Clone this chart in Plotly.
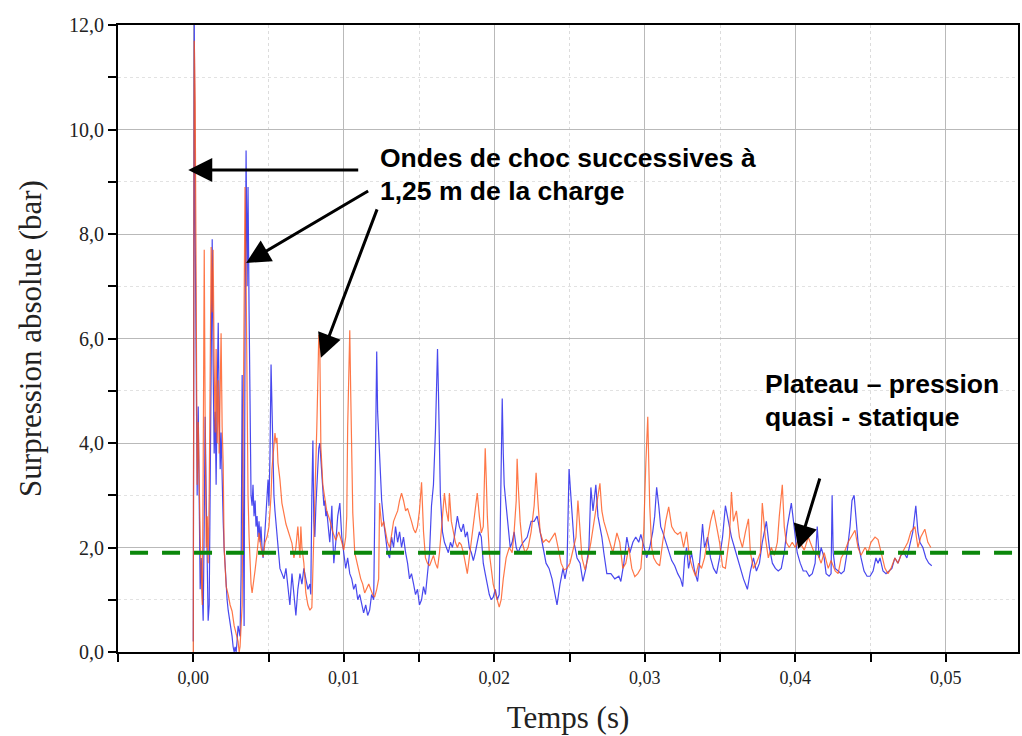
import plotly.graph_objects as go

# ---- Blue trace (time in ms, pressure in bar) ----
blue_time_ms = [
    0.00, 0.07, 0.13, 0.20, 0.26, 0.33, 0.40, 0.46, 0.53, 0.60,
    0.66, 0.73, 0.79, 0.86, 0.93, 0.99, 1.06, 1.13, 1.19, 1.26,
    1.32, 1.39, 1.46, 1.52, 1.59, 1.66, 1.72, 1.79, 1.85, 1.92,
    1.99, 2.05, 2.12, 2.19, 2.25, 2.32, 2.38, 2.45, 2.52, 2.58,
    2.65, 2.72, 2.78, 2.85, 2.91, 2.98, 3.11, 3.18, 3.25, 3.31,
    3.38, 3.44, 3.51, 3.58, 3.64, 3.71, 3.77, 3.84, 3.91, 3.97,
    4.04, 4.11, 4.17, 4.24, 4.30, 4.37, 4.44, 4.50, 4.57, 4.64,
    4.70, 4.77, 4.83, 4.90, 4.97, 5.03, 5.10, 5.17, 5.23, 5.30,
    5.36, 5.43, 5.50, 5.56, 5.63, 5.70, 5.76, 5.89, 6.03, 6.16,
    6.29, 6.42, 6.56, 6.69, 6.82, 6.95, 7.09, 7.22, 7.35, 7.48,
    7.62, 7.75, 7.81, 7.88, 7.95, 8.01, 8.08, 8.15, 8.21, 8.28,
    8.34, 8.41, 8.48, 8.54, 8.61, 8.68, 8.74, 8.81, 8.87, 8.94,
    9.01, 9.07, 9.14, 9.21, 9.27, 9.34, 9.47, 9.60, 9.74, 9.87,
    10.00, 10.13, 10.26, 10.40, 10.53, 10.66, 10.79, 10.93, 11.06, 11.19,
    11.32, 11.46, 11.59, 11.72, 11.85, 11.99, 12.05, 12.12, 12.19, 12.25,
    12.32, 12.38, 12.45, 12.52, 12.65, 12.78, 12.91, 13.05, 13.18, 13.31,
    13.44, 13.58, 13.71, 13.84, 13.97, 14.11, 14.24, 14.37, 14.50, 14.64,
    14.77, 14.90, 15.03, 15.17, 15.30, 15.43, 15.56, 15.70, 15.83, 15.96,
    16.09, 16.16, 16.23, 16.29, 16.36, 16.42, 16.56, 16.69, 16.82, 16.95,
    17.09, 17.22, 17.35, 17.55, 17.68, 17.81, 17.95, 18.08, 18.21, 18.34,
    18.48, 18.61, 18.74, 18.87, 19.01, 19.14, 19.27, 19.40, 19.54, 19.67,
    19.80, 19.93, 20.07, 20.20, 20.33, 20.40, 20.46, 20.53, 20.60, 20.66,
    20.79, 20.93, 21.06, 21.19, 21.32, 21.46, 21.59, 21.72, 21.92, 22.19,
    22.45, 22.65, 22.85, 23.05, 23.25, 23.44, 23.64, 23.84, 24.04, 24.17,
    24.37, 24.57, 24.70, 24.83, 24.97, 25.03, 25.17, 25.30, 25.50, 25.70,
    25.89, 26.09, 26.29, 26.42, 26.56, 26.75, 26.89, 27.02, 27.15, 27.28,
    27.48, 27.75, 28.01, 28.28, 28.41, 28.61, 28.81, 29.01, 29.21, 29.40,
    29.60, 29.74, 29.93, 30.13, 30.33, 30.53, 30.66, 30.79, 30.93, 31.06,
    31.19, 31.39, 31.59, 31.79, 31.99, 32.19, 32.38, 32.52, 32.65, 32.78,
    32.91, 33.11, 33.31, 33.51, 33.64, 33.84, 33.97, 34.17, 34.37, 34.57,
    34.77, 34.97, 35.17, 35.36, 35.56, 35.76, 35.96, 36.16, 36.36, 36.56,
    36.82, 37.02, 37.22, 37.42, 37.62, 37.81, 38.08, 38.28, 38.48, 38.68,
    38.87, 39.07, 39.27, 39.47, 39.74, 39.93, 40.13, 40.33, 40.53, 40.73,
    40.93, 41.13, 41.32, 41.46, 41.59, 41.72, 41.92, 42.05, 42.25, 42.38,
    42.45, 42.52, 42.65, 42.85, 43.05, 43.25, 43.44, 43.64, 43.77, 43.91,
    44.04, 44.17, 44.37, 44.57, 44.77, 44.97, 45.17, 45.36, 45.50, 45.63,
    45.83, 46.03, 46.23, 46.42, 46.62, 46.82, 47.02, 47.22, 47.42, 47.81,
    48.01, 48.15, 48.28, 48.48, 48.68, 48.87, 49.07,
]
blue_pressure_bar = [
    0.2, 12.0, 8.0, 4.6, 3.0, 4.7, 2.2, 1.2, 1.8, 0.8,
    0.6, 2.5, 4.5, 3.0, 1.5, 0.6, 0.9, 3.5, 6.0, 7.9,
    5.5, 3.8, 4.6, 3.2, 5.0, 6.3, 4.8, 3.5, 4.2, 3.0,
    2.5, 2.0, 1.6, 1.2, 1.0, 0.8, 0.7, 0.5, 0.4, 0.3,
    0.1, 0.0, 0.1, 0.0, 0.2, 0.5, 0.3, 1.5, 5.3, 2.0,
    0.5, 6.0, 9.6, 7.0, 8.9, 6.5, 4.0, 3.0, 2.8, 3.2,
    2.6, 2.9, 2.4, 2.6, 2.2, 2.5, 2.1, 2.4, 2.0, 1.8,
    2.0, 2.3, 2.6, 2.9, 3.3, 2.8, 3.8, 5.5, 4.5, 3.8,
    3.0, 2.7, 2.5, 2.3, 2.0, 1.8, 1.6, 1.5, 1.4, 1.6,
    1.2, 0.9, 1.5, 1.1, 0.7, 1.2, 1.5, 1.3, 1.6, 1.4,
    1.2, 1.3, 1.1, 3.0, 4.05, 2.5, 2.2, 2.8, 3.2, 3.6,
    3.9, 4.0, 3.7, 3.3, 3.0, 2.8, 2.9, 2.6, 2.7, 2.5,
    2.3, 2.1, 2.4, 2.8, 2.2, 1.7, 2.1, 2.6, 2.85, 2.2,
    1.9, 1.6, 1.8, 1.5, 1.4, 1.2, 1.3, 1.0, 1.1, 0.9,
    0.75, 0.9, 0.7, 0.8, 1.1, 1.0, 2.5, 5.0, 5.75, 4.6,
    4.2, 3.7, 3.3, 2.9, 2.5, 2.2, 1.9, 1.8, 2.2, 2.0,
    2.4, 2.1, 2.3, 2.0, 2.2, 1.9, 1.7, 1.4, 1.5, 1.3,
    1.1, 1.2, 0.9, 1.0, 1.25, 1.1, 1.5, 1.9, 2.8, 3.2,
    4.2, 5.0, 5.8, 5.0, 3.7, 3.0, 2.3, 2.1, 2.0, 1.9,
    2.1, 2.0, 2.2, 2.6, 2.4, 2.3, 2.45, 2.2, 2.3, 2.0,
    1.9, 1.75, 1.9, 2.1, 2.3, 2.2, 1.7, 1.5, 1.25, 1.1,
    1.0, 1.05, 1.2, 1.0, 1.1, 2.5, 4.0, 4.85, 3.8, 3.2,
    2.8, 2.3, 2.0, 2.1, 2.3, 2.0, 1.9, 2.0, 2.1, 2.2,
    2.5, 2.5, 2.6, 2.3, 2.0, 1.7, 1.6, 1.4, 1.1, 0.9,
    1.3, 1.6, 1.4, 1.6, 3.5, 3.2, 2.6, 2.1, 1.8, 1.7,
    1.35, 1.6, 2.0, 3.15, 2.7, 3.2, 2.6, 2.4, 2.2, 1.9,
    1.5, 1.5, 1.4, 1.45, 1.35, 1.7, 2.2, 1.9, 2.1, 2.2,
    2.1, 2.25, 2.0, 1.8, 2.0, 2.3, 2.6, 3.15, 2.8, 2.4,
    2.3, 2.1, 1.9, 1.75, 1.65, 1.5, 1.4, 1.25, 1.8, 2.0,
    1.6, 1.9, 1.55, 1.35, 1.7, 2.45, 2.0, 2.2, 1.8, 1.6,
    1.5, 1.8, 2.2, 2.8, 2.5, 2.2, 2.0, 1.8, 1.55, 1.4,
    1.2, 1.55, 1.8, 1.55, 1.7, 2.1, 2.5, 2.0, 1.7, 1.6,
    1.55, 1.6, 1.9, 2.4, 2.85, 2.4, 1.9, 1.7, 1.55, 1.55,
    1.45, 1.5, 1.7, 2.4, 1.8, 2.0, 1.8, 1.5, 1.45, 1.5,
    3.0, 1.9, 1.6, 1.55, 1.5, 1.55, 1.9, 2.4, 2.9, 3.0,
    2.6, 2.1, 1.8, 1.55, 1.45, 1.45, 1.55, 1.8, 1.7, 1.8,
    1.55, 1.5, 1.55, 1.6, 1.8, 1.7, 1.85, 1.9, 1.8, 2.3,
    2.8, 2.3, 2.1, 2.0, 1.8, 1.7, 1.65,
]

# ---- Orange trace (time in ms, pressure in bar) ----
orange_time_ms = [
    0.00, 0.07, 0.13, 0.20, 0.26, 0.33, 0.40, 0.46, 0.53, 0.60,
    0.66, 0.73, 0.79, 0.86, 0.93, 0.99, 1.06, 1.13, 1.19, 1.26,
    1.32, 1.39, 1.46, 1.52, 1.59, 1.66, 1.72, 1.79, 1.85, 1.92,
    1.99, 2.05, 2.12, 2.19, 2.32, 2.45, 2.58, 2.72, 2.85, 2.98,
    3.05, 3.11, 3.18, 3.25, 3.31, 3.38, 3.44, 3.51, 3.58, 3.64,
    3.71, 3.77, 3.84, 3.91, 3.97, 4.11, 4.24, 4.37, 4.50, 4.64,
    4.77, 4.90, 5.03, 5.17, 5.23, 5.36, 5.43, 5.50, 5.56, 5.63,
    5.76, 5.89, 6.03, 6.16, 6.29, 6.42, 6.56, 6.69, 6.82, 6.95,
    7.02, 7.09, 7.15, 7.22, 7.35, 7.48, 7.62, 7.75, 7.88, 7.95,
    8.08, 8.21, 8.28, 8.34, 8.41, 8.48, 8.61, 8.74, 8.87, 9.07,
    9.27, 9.47, 9.67, 9.87, 10.00, 10.13, 10.20, 10.26, 10.33, 10.40,
    10.46, 10.53, 10.60, 10.73, 10.86, 10.99, 11.13, 11.26, 11.39, 11.52,
    11.66, 11.79, 11.92, 12.05, 12.19, 12.32, 12.38, 12.52, 12.65, 12.78,
    12.91, 13.05, 13.18, 13.31, 13.44, 13.58, 13.71, 13.84, 13.97, 14.11,
    14.24, 14.37, 14.50, 14.64, 14.77, 14.90, 15.03, 15.17, 15.23, 15.30,
    15.43, 15.56, 15.70, 15.83, 15.96, 16.09, 16.23, 16.36, 16.49, 16.62,
    16.69, 16.82, 16.95, 17.02, 17.15, 17.28, 17.42, 17.55, 17.68, 17.81,
    17.95, 18.08, 18.21, 18.34, 18.48, 18.61, 18.74, 18.87, 19.01, 19.14,
    19.27, 19.40, 19.47, 19.54, 19.67, 19.80, 19.93, 20.07, 20.20, 20.33,
    20.46, 20.60, 20.79, 21.00, 21.19, 21.32, 21.46, 21.52, 21.59, 21.72,
    21.85, 22.05, 22.25, 22.45, 22.65, 22.78, 22.92, 23.05, 23.25, 23.44,
    23.64, 23.84, 24.04, 24.24, 24.44, 24.64, 24.83, 25.03, 25.23, 25.43,
    25.56, 25.70, 25.83, 26.03, 26.23, 26.42, 26.62, 26.82, 27.02, 27.15,
    27.28, 27.48, 27.68, 27.88, 28.15, 28.34, 28.54, 28.74, 28.94, 29.14,
    29.34, 29.54, 29.74, 29.93, 30.07, 30.13, 30.20, 30.26, 30.33, 30.46,
    30.60, 30.79, 30.99, 31.19, 31.39, 31.59, 31.79, 31.99, 32.19, 32.38,
    32.58, 32.78, 32.98, 33.18, 33.38, 33.58, 33.77, 33.97, 34.17, 34.37,
    34.57, 34.77, 34.97, 35.17, 35.36, 35.63, 35.76, 35.89, 36.09, 36.29,
    36.49, 36.69, 36.89, 37.02, 37.22, 37.42, 37.68, 37.81, 38.01, 38.21,
    38.41, 38.61, 38.81, 38.94, 39.14, 39.27, 39.40, 39.60, 39.80, 40.00,
    40.20, 40.40, 40.60, 40.86, 41.06, 41.26, 41.52, 41.72, 41.92, 42.19,
    42.38, 42.65, 42.85, 43.05, 43.25, 43.51, 43.71, 43.97, 44.17, 44.37,
    44.64, 44.83, 45.03, 45.30, 45.50, 45.70, 45.96, 46.16, 46.36, 46.62,
    46.82, 47.02, 47.28, 47.48, 47.68, 47.95, 48.15, 48.34, 48.61, 48.81,
    49.01,
]
orange_pressure_bar = [
    0.0, 11.7, 10.5, 5.4, 3.2, 4.4, 2.6, 2.2, 1.5, 0.9,
    3.5, 7.7, 4.5, 2.0, 2.6, 1.7, 3.0, 5.2, 7.75, 6.5,
    7.7, 5.5, 4.2, 5.8, 4.0, 5.2, 3.8, 5.0, 6.1, 4.3,
    3.6, 2.0, 1.5, 1.25, 1.1, 0.9, 0.78, 0.5, 0.35, 0.2,
    0.0, 0.1, 0.5, 0.9, 4.0, 7.5, 8.9, 7.2, 4.5, 3.0,
    2.2, 1.6, 1.3, 1.13, 1.3, 1.57, 1.9, 2.28, 2.0, 1.82,
    2.1, 2.2, 2.4, 3.0, 3.5, 3.9, 4.19, 4.0, 4.1, 3.62,
    3.3, 2.85, 2.6, 2.45, 2.33, 2.2, 2.08, 1.8, 2.0, 2.4,
    2.0, 1.8, 2.4, 2.0, 1.7, 1.13, 0.9, 0.8, 0.85, 1.5,
    3.0, 4.3, 5.2, 6.07, 5.8, 3.93, 3.2, 2.9, 2.7, 2.53,
    2.3, 2.14, 2.3, 2.1, 1.95, 2.2, 2.6, 4.3, 5.5, 6.16,
    5.0, 3.5, 2.66, 1.9, 1.7, 1.57, 1.4, 1.3, 1.13, 1.2,
    1.3, 1.2, 1.1, 1.05, 1.2, 1.4, 2.85, 2.4, 2.5, 2.3,
    2.1, 2.0, 2.28, 2.5, 2.6, 2.7, 2.9, 3.04, 2.9, 2.7,
    2.75, 2.6, 2.5, 2.35, 2.28, 2.4, 2.7, 3.25, 2.8, 2.3,
    1.8, 1.7, 1.65, 1.75, 1.85, 1.7, 1.6, 1.9, 2.28, 2.8,
    3.04, 2.7, 2.5, 3.04, 2.5, 2.28, 2.1, 2.0, 2.1, 2.05,
    1.9, 1.7, 1.5, 1.8, 2.1, 2.4, 2.7, 3.04, 2.6, 2.28,
    2.4, 3.9, 3.3, 2.6, 1.9, 1.6, 1.3, 1.13, 1.0, 0.86,
    1.0, 1.4, 1.8, 2.0, 1.9, 2.3, 2.9, 3.7, 3.2, 2.5,
    2.1, 1.9, 2.0, 2.3, 2.8, 3.43, 2.8, 2.3, 2.1, 2.15,
    2.1, 2.2, 2.28, 2.0, 1.7, 1.57, 1.6, 1.7, 1.95, 2.2,
    2.9, 2.3, 1.8, 1.57, 1.8, 2.1, 2.5, 2.8, 3.23, 2.7,
    2.5, 2.3, 2.1, 1.9, 2.28, 2.1, 1.6, 1.7, 2.0, 1.6,
    1.44, 1.5, 1.6, 2.3, 3.6, 4.0, 4.5, 3.7, 2.8, 2.0,
    1.8, 1.7, 1.65, 2.1, 2.5, 2.78, 2.4, 2.3, 2.25, 2.3,
    2.0, 2.3, 1.8, 1.6, 1.45, 1.7, 1.6, 1.8, 2.2, 2.5,
    2.72, 2.4, 2.1, 1.63, 1.6, 2.2, 3.06, 2.5, 2.7, 2.2,
    2.0, 2.3, 2.55, 1.9, 1.6, 1.7, 1.9, 2.85, 2.2, 1.8,
    2.0, 1.85, 2.1, 2.6, 3.2, 2.4, 2.1, 2.0, 2.1, 2.0,
    2.15, 2.05, 1.95, 2.2, 2.05, 1.9, 1.85, 1.7, 1.9, 1.6,
    1.75, 1.55, 1.5, 1.8, 1.9, 2.1, 2.2, 2.33, 2.0, 1.85,
    2.0, 1.9, 2.1, 2.2, 2.15, 1.9, 1.6, 1.5, 1.6, 1.8,
    1.7, 1.85, 2.0, 2.1, 2.3, 2.4, 2.0, 2.2, 2.35, 2.1,
    2.0,
]

# ---- Quasi-static pressure plateau (green dashed line) ----
plateau_time_s = [-0.0042, 0.055]
plateau_pressure_bar = [1.9, 1.9]

# ---- Tick values ----
x_tick_vals = [0.00, 0.01, 0.02, 0.03, 0.04, 0.05]
y_tick_vals = [0, 2, 4, 6, 8, 10, 12]

fig = go.Figure()
fig.add_trace(go.Scatter(
    x=[t / 1000 for t in blue_time_ms], y=blue_pressure_bar,
    mode="lines", line=dict(color="rgba(40,40,235,0.85)", width=1.2),
    showlegend=False, hoverinfo="skip"))
fig.add_trace(go.Scatter(
    x=[t / 1000 for t in orange_time_ms], y=orange_pressure_bar,
    mode="lines", line=dict(color="rgba(255,85,25,0.8)", width=1.2),
    showlegend=False, hoverinfo="skip"))
fig.add_trace(go.Scatter(
    x=plateau_time_s, y=plateau_pressure_bar,
    mode="lines", line=dict(color="#0b870b", width=4, dash="18px,14px"),
    showlegend=False, hoverinfo="skip"))

serif = "Liberation Serif, Times New Roman, serif"
sans = "Liberation Sans, Arial, sans-serif"

fig.update_layout(
    width=1022, height=736,
    margin=dict(l=118, r=2, t=25, b=84),
    plot_bgcolor="white", paper_bgcolor="white",
    separators=", ",
    font=dict(family=serif, color="#222"),
    xaxis=dict(
        range=[-0.005, 0.0548],
        tickvals=x_tick_vals, tickformat=".2f",
        ticks="outside", ticklen=8, tickwidth=2, tickcolor="black",
        tickfont=dict(family=serif, size=18, color="#222"),
        showline=True, linecolor="black", linewidth=2, mirror=True,
        showgrid=True, gridcolor="#b9b9b9", gridwidth=1,
        zeroline=False,
        minor=dict(dtick=0.005, tick0=0, ticks="outside", ticklen=8, tickwidth=2,
                   tickcolor="black", showgrid=True, gridcolor="#dcdcdc", griddash="dot"),
        title=dict(text="Temps (s)", font=dict(family=serif, size=31, color="#222"), standoff=20),
    ),
    yaxis=dict(
        range=[0, 12],
        tickvals=y_tick_vals, tickformat=".1f",
        ticks="outside", ticklen=8, tickwidth=2, tickcolor="black",
        tickfont=dict(family=serif, size=20, color="#222"),
        showline=True, linecolor="black", linewidth=2, mirror=True,
        showgrid=True, gridcolor="#b9b9b9", gridwidth=1,
        zeroline=False,
        minor=dict(dtick=1, tick0=0, ticks="outside", ticklen=8, tickwidth=2,
                   tickcolor="black", showgrid=True, gridcolor="#e2e2e2", griddash="dot"),
        title=dict(text="Surpression absolue (bar)", font=dict(family=serif, size=31, color="#222"), standoff=18),
    ),
)

text_font = dict(family=sans, size=26.5, color="black")
texts = [
    ("<b>Ondes de choc successives à</b>", 0.01225, 9.45),
    ("<b>1,25 m de la charge</b>", 0.01225, 8.82),
    ("<b>Plateau – pression</b>", 0.03788, 5.13),
    ("<b>quasi - statique</b>", 0.03788, 4.50),
]
for txt, tx, ty in texts:
    fig.add_annotation(x=tx, y=ty, xref="x", yref="y", text=txt, showarrow=False,
                       xanchor="left", yanchor="middle", font=text_font)

arrows = [
    # (head_x, head_y, tail_x, tail_y)
    (-0.00033, 9.225, 0.01106, 9.225),
    (0.00351, 7.445, 0.01172, 8.84),
    (0.00848, 5.63, 0.01225, 8.50),
    (0.0402, 1.97, 0.04166, 3.35),
]
for hx, hy, tx, ty in arrows:
    fig.add_annotation(x=hx, y=hy, ax=tx, ay=ty, xref="x", yref="y", axref="x", ayref="y",
                       text="", showarrow=True, arrowhead=2, arrowsize=1.6, arrowwidth=3,
                       arrowcolor="black", standoff=0)

fig.write_html("out.html")
